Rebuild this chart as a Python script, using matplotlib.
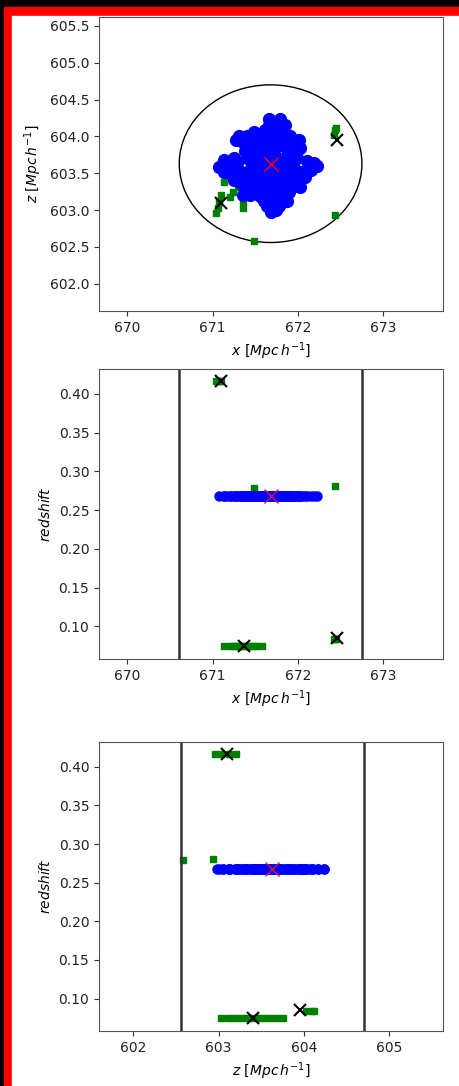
import matplotlib
matplotlib.use("Agg")
import matplotlib.pyplot as plt
from matplotlib.patches import Circle, Rectangle
import numpy as np

# cluster centre (x, z, redshift) and aperture radius
centre_x, centre_z, centre_redshift = 671.68, 603.63, 0.268
aperture_r = 1.07

# cluster members (all at the cluster redshift)
member_x = [671.66, 671.79, 671.85, 671.62, 671.72, 671.54, 671.40, 671.31, 671.27, 671.36,
            671.48, 671.60, 671.70, 671.81, 671.91, 672.01, 672.03, 671.89, 671.79, 671.68,
            671.56, 671.44, 671.40, 671.25, 671.13, 671.07, 671.13, 671.21, 671.29, 671.33,
            671.44, 671.54, 671.64, 671.76, 671.87, 671.99, 672.11, 672.19, 672.15, 672.05,
            671.95, 671.83, 671.74, 671.64, 671.54, 671.44, 671.33, 671.25, 671.40, 671.50,
            671.60, 671.70, 671.79, 671.89, 671.99, 672.03, 671.93, 671.83, 671.76, 671.66,
            671.56, 671.44, 671.36, 671.60, 671.72, 671.81, 671.87, 671.74, 671.68, 671.78,
            671.64,
            671.50, 671.60, 671.72, 671.90, 671.46, 671.35, 671.55, 671.75, 671.86, 671.65,
            671.52, 671.70, 671.90, 671.55, 671.76, 671.86, 671.20, 671.16, 672.08, 671.96,
            671.66, 671.48, 671.62, 671.80, 671.38, 671.58, 671.92, 672.22]
member_z = [604.23, 604.23, 604.16, 604.09, 604.11, 604.02, 604.00, 604.00, 603.95, 603.93,
            603.93, 603.98, 603.98, 604.02, 604.00, 603.95, 603.84, 603.86, 603.89, 603.86,
            603.84, 603.80, 603.71, 603.71, 603.68, 603.59, 603.52, 603.59, 603.64, 603.52,
            603.55, 603.61, 603.68, 603.71, 603.75, 603.71, 603.66, 603.64, 603.55, 603.52,
            603.57, 603.59, 603.57, 603.52, 603.46, 603.41, 603.37, 603.41, 603.30, 603.32,
            603.34, 603.39, 603.41, 603.43, 603.39, 603.32, 603.32, 603.30, 603.23, 603.23,
            603.19, 603.21, 603.21, 603.12, 603.12, 603.14, 603.12, 603.00, 602.98, 603.05,
            603.05,
            603.70, 603.80, 603.76, 603.64, 603.62, 603.45, 603.52, 603.48, 603.50, 603.40,
            603.26, 603.30, 603.25, 603.90, 604.10, 603.96, 603.50, 603.62, 603.45, 603.80,
            604.16, 604.06, 603.72, 603.66, 603.80, 603.58, 603.46, 603.60]
member_redshift = 0.268

# other galaxies along the line of sight (groups + field)
other_x = [671.04, 671.06, 671.08, 671.10,
           671.14, 671.21, 671.24, 671.36, 671.36, 671.45, 671.52, 671.58, 671.42,
           671.30, 671.28, 671.48,
           672.44, 672.42, 672.45,
           671.48, 672.43]
other_z = [602.96, 603.03, 603.12, 603.20,
           603.38, 603.18, 603.25, 603.03, 603.11, 603.55, 603.62, 603.75, 603.68,
           603.32, 603.45, 603.48,
           604.09, 604.02, 604.12,
           602.58, 602.94]
other_redshift = [0.416, 0.416, 0.416, 0.416,
                  0.075, 0.075, 0.075, 0.075, 0.075, 0.075, 0.075, 0.075, 0.075,
                  0.075, 0.075, 0.075,
                  0.084, 0.084, 0.084,
                  0.279, 0.281]

# group centres
group_x = [671.10, 671.37, 672.46]
group_z = [603.10, 603.40, 603.95]
group_redshift = [0.416, 0.075, 0.085]

fig = plt.figure(figsize=(4.59, 10.86), dpi=100)
fig.patch.set_facecolor("black")
fig.patches.append(Rectangle((4 / 459, 0), 1, 1 - 7 / 1086, transform=fig.transFigure,
                             color="red", zorder=-2))
fig.patches.append(Rectangle((12 / 459, 0), 1, 1 - 16 / 1086, transform=fig.transFigure,
                             color="white", zorder=-1))

ax1 = fig.add_axes([0.2157, 0.7136, 0.7495, 0.2707])
ax2 = fig.add_axes([0.2157, 0.3932, 0.7495, 0.2670])
ax3 = fig.add_axes([0.2157, 0.0506, 0.7495, 0.2661])

xlab = r"$x\ [Mpc\,h^{-1}]$"
zlab = r"$z\ [Mpc\,h^{-1}]$"

# x-z plane
ax1.plot(other_x, other_z, "s", color="green", ms=4.5)
ax1.plot(group_x, group_z, "x", color="black", ms=9, mew=1.5)
ax1.plot(member_x, member_z, "o", color="blue", ms=8.5)
ax1.plot(centre_x, centre_z, "x", color="red", ms=10, mew=1)
ax1.add_patch(Circle((centre_x, centre_z), aperture_r, fill=False, ec="black", lw=1))
ax1.set_xlim(669.67, 673.7)
ax1.set_ylim(601.63, 605.62)
ax1.set_xticks([670, 671, 672, 673])
ax1.set_yticks(np.arange(602.0, 605.51, 0.5))
ax1.set_xlabel(xlab)
ax1.set_ylabel(zlab)

# x vs redshift, z vs redshift
for ax, pos_m, pos_o, pos_g, c, lab, lim, ticks in [
        (ax2, member_x, other_x, group_x, centre_x, xlab, (669.67, 673.7), [670, 671, 672, 673]),
        (ax3, member_z, other_z, group_z, centre_z, zlab, (601.6, 605.63), [602, 603, 604, 605])]:
    ax.plot(pos_o, other_redshift, "s", color="green", ms=4.5)
    ax.plot(pos_g, group_redshift, "x", color="black", ms=9, mew=1.5)
    ax.plot(pos_m, np.full(len(pos_m), member_redshift), "o", color="blue", ms=6.5)
    ax.plot(c, centre_redshift, "x", color="crimson", ms=10, mew=1)
    ax.axvline(c - aperture_r, color="#333333", lw=1.8)
    ax.axvline(c + aperture_r, color="#333333", lw=1.8)
    ax.set_xlim(*lim)
    ax.set_ylim(0.058, 0.432)
    ax.set_xticks(ticks)
    ax.set_yticks([0.10, 0.15, 0.20, 0.25, 0.30, 0.35, 0.40])
    ax.set_xlabel(lab)
    ax.set_ylabel(r"$redshift$")

for ax in (ax1, ax2, ax3):
    for s in ax.spines.values():
        s.set_color("#555555")
    ax.tick_params(colors="#333333", labelcolor="#222222")

fig.savefig("out.png", dpi=100, facecolor=fig.get_facecolor())
